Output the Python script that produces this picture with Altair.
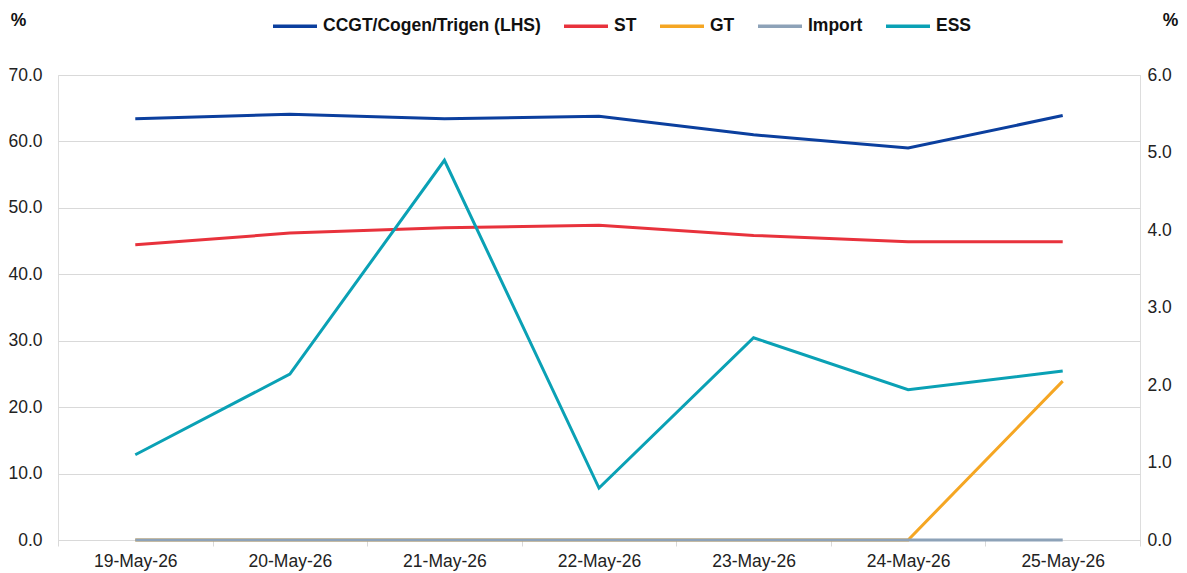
import altair as alt
import pandas as pd

dates = ["19-May-26", "20-May-26", "21-May-26", "22-May-26", "23-May-26", "24-May-26", "25-May-26"]
ccgt = [63.4, 64.1, 63.4, 63.8, 61.0, 59.0, 63.9]
st = [3.81, 3.96, 4.03, 4.06, 3.93, 3.85, 3.85]
gt = [0, 0, 0, 0, 0, 0, 2.05]
imp = [0, 0, 0, 0, 0, 0, 0]
ess = [1.10, 2.14, 4.90, 0.67, 2.61, 1.94, 2.18]

series_names = ["CCGT/Cogen/Trigen (LHS)", "ST", "GT", "Import", "ESS"]
series_colors = ["#0b3f9e", "#e8323c", "#f5a623", "#8da2b8", "#0aa1b5"]

rows = []
for name, vals, side in [
    (series_names[0], ccgt, "L"),
    (series_names[1], st, "R"),
    (series_names[2], gt, "R"),
    (series_names[3], imp, "R"),
    (series_names[4], ess, "R"),
]:
    for i, (d, v) in enumerate(zip(dates, vals)):
        rows.append({"date": d, "value": v, "series": name, "side": side, "ord": series_names.index(name)})
df = pd.DataFrame(rows)

FONT = "Liberation Sans"
FS = 17.5

x = alt.X(
    "date:O",
    sort=dates,
    bandPosition=0.5,
    scale=alt.Scale(type="band", paddingInner=0, paddingOuter=0),
    axis=alt.Axis(
        title=None,
        labelAngle=0,
        tickBand="extent",
        grid=False,
        domainColor="#d9d9d9",
        tickColor="#d9d9d9",
        tickSize=6,
        labelPadding=6,
        labelFontSize=FS,
        labelColor="#222222",
        labelFont=FONT,
    ),
)

color = alt.Color(
    "series:N",
    scale=alt.Scale(domain=series_names, range=series_colors),
    legend=alt.Legend(
        title=None,
        orient="none",
        direction="horizontal",
        columns=5,
        legendX=213,
        legendY=-73,
        symbolType="stroke",
        symbolSize=1936,
        symbolStrokeWidth=3.5,
        labelFontSize=FS,
        labelFontWeight="bold",
        labelFont=FONT,
        labelColor="#111111",
        labelOffset=4,
        columnPadding=16,
        labelLimit=400,
    ),
)

left = alt.Chart(df).transform_filter(alt.datum.side == "L").mark_line(strokeWidth=3).encode(
    x=x,
    y=alt.Y(
        "value:Q",
        scale=alt.Scale(domain=[0, 70], nice=False),
        axis=alt.Axis(
            values=[0, 10, 20, 30, 40, 50, 60, 70],
            format=".1f",
            title="%",
            titleAngle=0,
            titleX=-40,
            titleY=-55,
            titleAlign="center",
            titleBaseline="middle",
            titleFontSize=FS,
            titleFontWeight="bold",
            titleFont=FONT,
            titleColor="#111111",
            domain=False,
            ticks=False,
            labelPadding=16,
            labelFontSize=FS,
            labelFont=FONT,
            labelColor="#222222",
            gridColor="#d9d9d9",
            gridWidth=1,
        ),
    ),
    color=color,
    order="ord:Q",
)

right = alt.Chart(df).transform_filter(alt.datum.side == "R").mark_line(strokeWidth=3).encode(
    x=x,
    y=alt.Y(
        "value:Q",
        scale=alt.Scale(domain=[0, 6], nice=False),
        axis=alt.Axis(
            orient="right",
            values=[0, 1, 2, 3, 4, 5, 6],
            format=".1f",
            title="%",
            titleAngle=0,
            titleX=30,
            titleY=-55,
            titleAlign="center",
            titleBaseline="middle",
            titleFontSize=FS,
            titleFontWeight="bold",
            titleFont=FONT,
            titleColor="#111111",
            domain=False,
            ticks=False,
            grid=False,
            labelPadding=7,
            labelFontSize=FS,
            labelFont=FONT,
            labelColor="#222222",
        ),
    ),
    color=color,
    detail="ord:Q",
)

chart = (
    alt.layer(left, right)
    .resolve_scale(y="independent")
    .properties(
        width=1082,
        height=465,
        autosize=alt.AutoSizeParams(type="none"),
        padding={"left": 50, "top": 67, "right": 39, "bottom": 33},
    )
    .configure_view(stroke=None)
    .configure(font=FONT)
)

chart.save("out.html", embed_options={"renderer": "svg", "actions": False})
